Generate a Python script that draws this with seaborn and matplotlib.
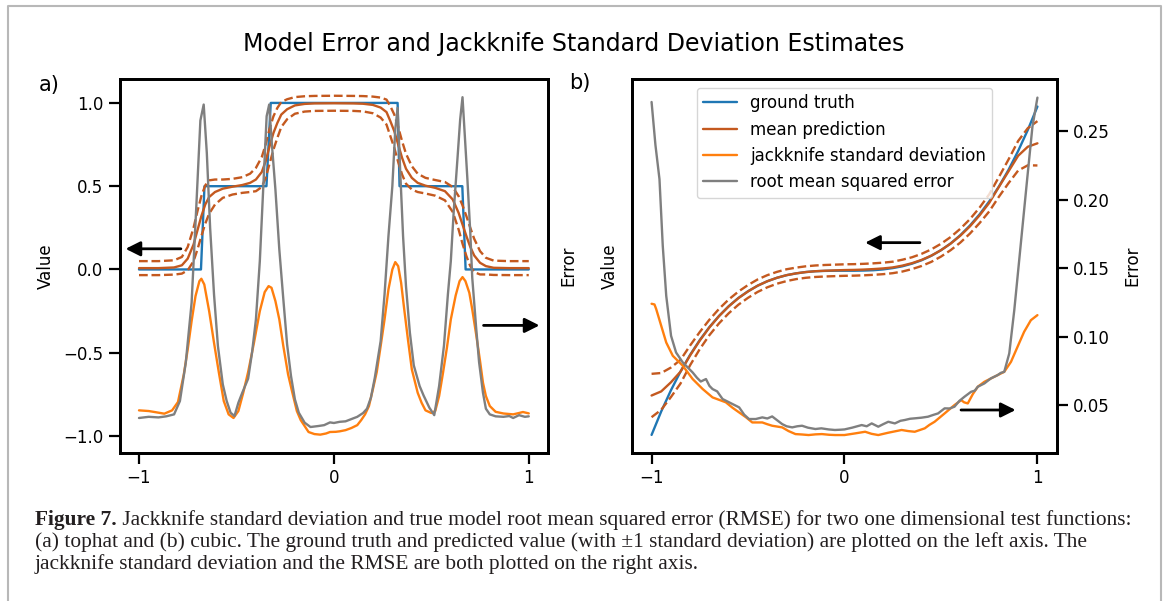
import numpy as np
import seaborn as sns
import matplotlib.pyplot as plt
from matplotlib.lines import Line2D

# ---------------- panel a: tophat ----------------
xa_truth = [-1.0, -0.682, -0.664, -0.346, -0.324, 0.327, 0.337, 0.659, 0.676, 1.0]
ya_truth = [0.0, 0.0, 0.5, 0.5, 1.0, 1.0, 0.5, 0.5, 0.0, 0.0]

xa_pred = [-1.0, -0.9, -0.82, -0.78, -0.75, -0.72, -0.70, -0.68, -0.66, -0.64, -0.61,
           -0.57, -0.52, -0.47, -0.43, -0.40, -0.37, -0.35, -0.33, -0.31, -0.29, -0.27,
           -0.24, -0.2, -0.15, -0.1, 0.0, 0.1, 0.15, 0.2, 0.24, 0.27, 0.29, 0.31, 0.33,
           0.35, 0.37, 0.40, 0.43, 0.47, 0.52, 0.57, 0.61, 0.64, 0.66, 0.68, 0.70, 0.72,
           0.75, 0.78, 0.82, 0.9, 1.0]
ya_mean = [0.008, 0.008, 0.012, 0.025, 0.065, 0.15, 0.235, 0.32, 0.39, 0.435, 0.465,
           0.485, 0.497, 0.507, 0.52, 0.54, 0.585, 0.65, 0.74, 0.82, 0.88, 0.93,
           0.962, 0.985, 0.994, 0.997, 0.998, 0.997, 0.995, 0.988, 0.972, 0.945, 0.89, 0.83, 0.75,
           0.67, 0.605, 0.55, 0.52, 0.503, 0.49, 0.47, 0.42, 0.34, 0.27, 0.2, 0.135, 0.084,
           0.04, 0.02, 0.01, 0.008, 0.008]
ya_std = [0.042, 0.042, 0.043, 0.05, 0.07, 0.1, 0.115, 0.12, 0.115, 0.1, 0.075,
          0.055, 0.047, 0.047, 0.055, 0.07, 0.09, 0.1, 0.105, 0.1, 0.09, 0.075,
          0.06, 0.05, 0.046, 0.045, 0.045, 0.045, 0.046, 0.05, 0.06, 0.075, 0.09, 0.1, 0.105,
          0.1, 0.09, 0.07, 0.055, 0.047, 0.047, 0.055, 0.075, 0.1, 0.115, 0.12, 0.115, 0.1,
          0.07, 0.05, 0.043, 0.042, 0.042]

xa_jack = [-1.0, -0.95, -0.92, -0.87, -0.83, -0.80, -0.77, -0.75, -0.73, -0.71, -0.69, -0.68,
           -0.665, -0.64, -0.615, -0.59, -0.565, -0.54, -0.515, -0.49, -0.465, -0.44, -0.41,
           -0.38, -0.355, -0.335, -0.32, -0.3, -0.28, -0.26, -0.235, -0.215, -0.19, -0.17,
           -0.13, -0.1, -0.07, -0.04, -0.02, 0.01, 0.03, 0.06, 0.09, 0.12, 0.14, 0.16, 0.18,
           0.2, 0.22, 0.24, 0.26, 0.28, 0.30, 0.315, 0.33, 0.345, 0.36, 0.38, 0.4, 0.43, 0.45,
           0.47, 0.5, 0.52, 0.54, 0.56, 0.58, 0.60, 0.625, 0.645, 0.66, 0.675, 0.695, 0.71,
           0.73, 0.75, 0.765, 0.78, 0.8, 0.83, 0.87, 0.92, 0.95, 0.97, 1.0]
ea_jack = [0.0466, 0.0459, 0.0449, 0.0432, 0.0466, 0.0551, 0.0833, 0.1088, 0.1377, 0.1632,
           0.1785, 0.1809, 0.1751, 0.1479, 0.1156, 0.085, 0.0561, 0.0425, 0.0388, 0.0459,
           0.0646, 0.0857, 0.1156, 0.1479, 0.1673, 0.1734, 0.1717, 0.1581, 0.1394, 0.1129,
           0.0833, 0.0663, 0.0459, 0.0366, 0.0245, 0.0224, 0.0218, 0.023, 0.0245, 0.0247,
           0.0252, 0.0264, 0.0286, 0.0315, 0.0366, 0.0425, 0.051, 0.068, 0.0857, 0.1122,
           0.1394, 0.17, 0.1904, 0.1979, 0.1938, 0.1768, 0.1513, 0.119, 0.0884, 0.0646,
           0.0544, 0.0466, 0.0439, 0.0459, 0.0612, 0.085, 0.1105, 0.1394, 0.1639, 0.1785,
           0.1826, 0.1785, 0.1666, 0.1496, 0.1241, 0.0969, 0.0748, 0.0612, 0.051, 0.0451,
           0.0434, 0.0425, 0.0439, 0.0449, 0.0435]

xa_rmse = [-1.0, -0.95, -0.9, -0.86, -0.82, -0.79, -0.76, -0.73, -0.705, -0.685, -0.668,
           -0.652, -0.635, -0.615, -0.595, -0.57, -0.55, -0.53, -0.51, -0.49, -0.47, -0.44,
           -0.42, -0.40, -0.38, -0.36, -0.345, -0.332, -0.318, -0.30, -0.28, -0.26, -0.24,
           -0.22, -0.2, -0.18, -0.15, -0.12, -0.08, -0.05, -0.02, 0.0, 0.03, 0.06, 0.09, 0.12,
           0.15, 0.17, 0.19, 0.21, 0.24, 0.26, 0.28, 0.30, 0.315, 0.327, 0.34, 0.355, 0.37,
           0.39, 0.41, 0.44, 0.46, 0.49, 0.515, 0.54, 0.565, 0.585, 0.60, 0.615, 0.635, 0.648,
           0.66, 0.672, 0.685, 0.70, 0.71, 0.73, 0.745, 0.765, 0.78, 0.80, 0.83, 0.87, 0.9,
           0.92, 0.95, 0.98, 1.0]
ea_rmse = [0.0388, 0.0400, 0.0394, 0.0405, 0.0425, 0.0561, 0.0952, 0.1564, 0.2584, 0.3424,
           0.3587, 0.3094, 0.2329, 0.1649, 0.1122, 0.0731, 0.0561, 0.0442, 0.0408, 0.0544,
           0.0646, 0.0789, 0.1054, 0.1394, 0.1989, 0.2839, 0.3468, 0.3587, 0.3179, 0.272,
           0.2108, 0.1615, 0.1139, 0.0816, 0.0578, 0.0442, 0.034, 0.0296, 0.0306, 0.0315,
           0.0343, 0.0337, 0.0349, 0.0354, 0.0377, 0.0400, 0.0439, 0.0483, 0.0595, 0.0799,
           0.1173, 0.1649, 0.2244, 0.2754, 0.3332, 0.3553, 0.2924, 0.2244, 0.1734, 0.1258,
           0.0925, 0.0714, 0.0619, 0.0493, 0.0417, 0.0714, 0.1129, 0.1649, 0.1989, 0.2499,
           0.306, 0.3434, 0.3662, 0.3264, 0.2829, 0.2278, 0.1819, 0.1309, 0.0959, 0.0646,
           0.0483, 0.0425, 0.0405, 0.0400, 0.0408, 0.0388, 0.0417, 0.0400, 0.0405]

# ---------------- panel b: cubic ----------------
xb = [-1.0, -0.95, -0.9, -0.85, -0.8, -0.75, -0.7, -0.65, -0.6, -0.55, -0.5, -0.45, -0.4,
      -0.35, -0.3, -0.25, -0.2, -0.15, -0.1, -0.05, 0.0, 0.05, 0.1, 0.15, 0.2, 0.25, 0.3,
      0.35, 0.4, 0.45, 0.5, 0.55, 0.6, 0.65, 0.7, 0.75, 0.8, 0.85, 0.9, 0.95, 1.0]
yb_truth = [-1.0, -0.857, -0.729, -0.614, -0.512, -0.422, -0.343, -0.275, -0.216, -0.166,
            -0.125, -0.091, -0.064, -0.043, -0.027, -0.016, -0.008, -0.003, -0.001, 0.0,
            0.0, 0.0, 0.001, 0.003, 0.008, 0.016, 0.027, 0.043, 0.064, 0.091, 0.125, 0.166,
            0.216, 0.275, 0.343, 0.422, 0.512, 0.614, 0.729, 0.857, 1.0]
yb_mean = [-0.76, -0.735, -0.68, -0.615, -0.515, -0.425, -0.345, -0.276, -0.217, -0.167,
           -0.126, -0.091, -0.064, -0.043, -0.027, -0.016, -0.008, -0.003, 0.0, 0.002,
           0.004, 0.005, 0.007, 0.01, 0.014, 0.02, 0.031, 0.046, 0.066, 0.092, 0.125, 0.165,
           0.213, 0.27, 0.337, 0.413, 0.51, 0.605, 0.7, 0.755, 0.776]
yb_std = [0.132, 0.112, 0.09, 0.072, 0.06, 0.052, 0.047, 0.044, 0.042, 0.04, 0.039, 0.038,
          0.037, 0.036, 0.036, 0.035, 0.035, 0.035, 0.035, 0.035, 0.035, 0.035, 0.035, 0.035,
          0.035, 0.035, 0.036, 0.036, 0.037, 0.038, 0.039, 0.04, 0.042, 0.044, 0.047, 0.052,
          0.06, 0.072, 0.09, 0.113, 0.135]

xb_jack = [-1.0, -0.985, -0.976, -0.95, -0.924, -0.89, -0.838, -0.787, -0.735, -0.684, -0.615,
           -0.58, -0.546, -0.51, -0.478, -0.426, -0.4, -0.375, -0.323, -0.29, -0.254, -0.22,
           -0.186, -0.15, -0.117, -0.08, -0.048, 0.0, 0.055, 0.107, 0.14, 0.175, 0.227, 0.296,
           0.33, 0.364, 0.416, 0.44, 0.467, 0.519, 0.57, 0.605, 0.62, 0.639, 0.665, 0.691,
           0.725, 0.777, 0.828, 0.863, 0.897, 0.931, 0.966, 1.0]
eb_jack = [0.124, 0.1235, 0.1201, 0.1079, 0.0957, 0.086, 0.0787, 0.069, 0.0617, 0.0556,
           0.052, 0.048, 0.0446, 0.041, 0.0373, 0.0373, 0.036, 0.0349, 0.0337, 0.031, 0.0288,
           0.0285, 0.0281, 0.0286, 0.0288, 0.0283, 0.0281, 0.0281, 0.0293, 0.0305, 0.029,
           0.0281, 0.0298, 0.0318, 0.031, 0.0305, 0.033, 0.0355, 0.0378, 0.0439, 0.05, 0.0536,
           0.052, 0.0512, 0.058, 0.0634, 0.067, 0.0707, 0.0743, 0.0816, 0.0926, 0.1035,
           0.112, 0.1157]

xb_rmse = [-1.0, -0.98, -0.959, -0.942, -0.924, -0.899, -0.873, -0.838, -0.787, -0.765,
           -0.745, -0.718, -0.70, -0.684, -0.66, -0.632, -0.598, -0.546, -0.52, -0.495,
           -0.46, -0.426, -0.4, -0.375, -0.35, -0.323, -0.3, -0.271, -0.245, -0.22, -0.19,
           -0.151, -0.12, -0.082, -0.05, -0.02, 0.0, 0.04, 0.089, 0.115, 0.141, 0.175, 0.2,
           0.227, 0.261, 0.29, 0.313, 0.34, 0.364, 0.4, 0.433, 0.46, 0.485, 0.519, 0.545,
           0.57, 0.595, 0.622, 0.656, 0.675, 0.691, 0.725, 0.745, 0.759, 0.794, 0.81, 0.828,
           0.854, 0.88, 0.914, 0.948, 0.974, 1.0]
eb_rmse = [0.2714, 0.24, 0.215, 0.1663, 0.1298, 0.1006, 0.0884, 0.0811, 0.0738, 0.0700,
           0.0672, 0.0690, 0.0640, 0.0617, 0.0600, 0.0544, 0.052, 0.0483, 0.0430, 0.0398,
           0.0398, 0.041, 0.0402, 0.0417, 0.039, 0.0361, 0.0345, 0.0337, 0.0345, 0.0349,
           0.0335, 0.0325, 0.0330, 0.0322, 0.0318, 0.032, 0.0322, 0.0335, 0.0354, 0.0345,
           0.0366, 0.0342, 0.036, 0.0378, 0.0366, 0.0385, 0.0391, 0.040, 0.0403, 0.0408,
           0.0415, 0.0428, 0.0439, 0.0476, 0.0475, 0.0488, 0.053, 0.0561, 0.0597, 0.0605,
           0.0634, 0.0658, 0.0680, 0.0695, 0.0719, 0.0735, 0.0743, 0.0877, 0.1193, 0.168,
           0.2167, 0.2532, 0.2746]

titulo = 'Model Error and Jackknife Standard Deviation Estimates'
leyendas = ['ground truth', 'mean prediction', 'jackknife standard deviation',
            'root mean squared error']
caption_lines = [
    'Jackknife standard deviation and true model root mean squared error (RMSE) for two one dimensional test functions:',
    '(a) tophat and (b) cubic. The ground truth and predicted value (with \u00b11 standard deviation) are plotted on the left axis. The',
    'jackknife standard deviation and the RMSE are both plotted on the right axis.',
]

c_truth = '#1f77b4'
c_mean = '#c4591f'
c_jack = '#ff7f0e'
c_rmse = '#7f7f7f'

sns.set_theme(style='ticks')
plt.rcParams['font.family'] = ['DejaVu Sans']
plt.rcParams.update({
    'axes.edgecolor': 'black', 'axes.linewidth': 2.0,
    'xtick.major.size': 8, 'ytick.major.size': 8,
    'xtick.major.width': 1.6, 'ytick.major.width': 1.6,
    'xtick.color': 'black', 'ytick.color': 'black',
    'text.color': 'black', 'axes.labelcolor': 'black',
    'xtick.labelsize': 12, 'ytick.labelsize': 12, 'axes.labelsize': 12,
})

fig = plt.figure(figsize=(11.67, 6.01), dpi=100)
ax_a = fig.add_axes([0.1024, 0.2463, 0.3674, 0.6218])
ax_b = fig.add_axes([0.5418, 0.2463, 0.3637, 0.6218])
tw_a = ax_a.twinx()
tw_b = ax_b.twinx()


def lineas_valor(ax, xt, yt, xp, media, std):
    media = np.array(media)
    std = np.array(std)
    sns.lineplot(x=xt, y=yt, ax=ax, color=c_truth, lw=1.7, estimator=None,
                 label=leyendas[0], legend=False)
    sns.lineplot(x=xp, y=media, ax=ax, color=c_mean, lw=1.7, estimator=None,
                 label=leyendas[1], legend=False)
    sns.lineplot(x=xp, y=media + std, ax=ax, color=c_mean, lw=1.7, ls='--',
                 estimator=None, legend=False)
    sns.lineplot(x=xp, y=media - std, ax=ax, color=c_mean, lw=1.7, ls='--',
                 estimator=None, legend=False)


def lineas_error(ax, xj, ej, xr, er):
    sns.lineplot(x=xj, y=ej, ax=ax, color=c_jack, lw=1.7, estimator=None,
                 label=leyendas[2], legend=False)
    sns.lineplot(x=xr, y=er, ax=ax, color=c_rmse, lw=1.7, estimator=None,
                 label=leyendas[3], legend=False)


lineas_valor(ax_a, xa_truth, ya_truth, xa_pred, ya_mean, ya_std)
lineas_error(tw_a, xa_jack, ea_jack, xa_rmse, ea_rmse)
lineas_valor(ax_b, xb, yb_truth, xb, yb_mean, yb_std)
lineas_error(tw_b, xb_jack, eb_jack, xb_rmse, eb_rmse)

# ejes
for ax in (ax_a, ax_b):
    ax.set_xlim(-1.1, 1.1)
    ax.set_xticks([-1, 0, 1])
ax_a.set_ylim(-1.102, 1.142)
ax_a.set_yticks([-1.0, -0.5, 0.0, 0.5, 1.0])
ax_a.set_ylabel('Value', labelpad=6)
tw_a.set_ylim(0.0031, 0.3845)
tw_a.tick_params(axis='y', right=False, labelright=False)
tw_a.set_ylabel('Error', labelpad=8)

ax_b.set_ylim(-1.11, 1.166)
ax_b.tick_params(axis='y', left=False, labelleft=False)
ax_b.set_ylabel('Value', labelpad=10)
tw_b.set_ylim(0.015, 0.288)
tw_b.set_yticks([0.05, 0.10, 0.15, 0.20, 0.25])
tw_b.set_ylabel('Error', labelpad=10)

# flechas
flecha = dict(arrowstyle='-|>', color='black', lw=2, mutation_scale=22, shrinkA=0, shrinkB=0)
ax_a.annotate('', xy=(-1.069, 0.124), xytext=(-0.785, 0.124), arrowprops=flecha)
ax_a.annotate('', xy=(1.055, -0.336), xytext=(0.768, -0.336), arrowprops=flecha)
ax_b.annotate('', xy=(0.107, 0.171), xytext=(0.391, 0.171), arrowprops=flecha)
tw_b.annotate('', xy=(0.887, 0.0464), xytext=(0.604, 0.0464), arrowprops=flecha)

# leyenda
h1, l1 = ax_b.get_legend_handles_labels()
h2, l2 = tw_b.get_legend_handles_labels()
tw_b.legend(h1 + h2, l1 + l2, loc='upper center', fontsize=12, frameon=True)

# textos
fig.text(0.492, 0.927, titulo, ha='center', va='center', fontsize=17)
fig.text(49 / 1167, 1 - 85 / 601, 'a)', ha='center', va='center', fontsize=15)
fig.text(580 / 1167, 1 - 83 / 601, 'b)', ha='center', va='center', fontsize=15)

serif = ['Liberation Serif', 'DejaVu Serif']
cap_color = '#231f20'
cap_size = 15.4
t1 = fig.text(35 / 1167, 1 - 520 / 601, 'Figure 7.', fontweight='bold', family=serif,
              fontsize=cap_size, va='center', ha='left', color=cap_color)
ax_a.annotate(' ' + caption_lines[0], xy=(1, 0), xycoords=t1, va='bottom', ha='left',
              family=serif, fontsize=cap_size, color=cap_color, annotation_clip=False)
fig.text(35 / 1167, 1 - 542 / 601, caption_lines[1], family=serif, fontsize=cap_size,
         va='center', ha='left', color=cap_color)
fig.text(35 / 1167, 1 - 564 / 601, caption_lines[2], family=serif, fontsize=cap_size,
         va='center', ha='left', color=cap_color)

# marco gris
fig.add_artist(Line2D([8 / 1167, 8 / 1167, 1161 / 1167, 1161 / 1167],
                      [0, 1 - 6 / 601, 1 - 6 / 601, 0],
                      transform=fig.transFigure, color='#b8b8b8', lw=1.5))

fig.savefig('out.png', dpi=100)
